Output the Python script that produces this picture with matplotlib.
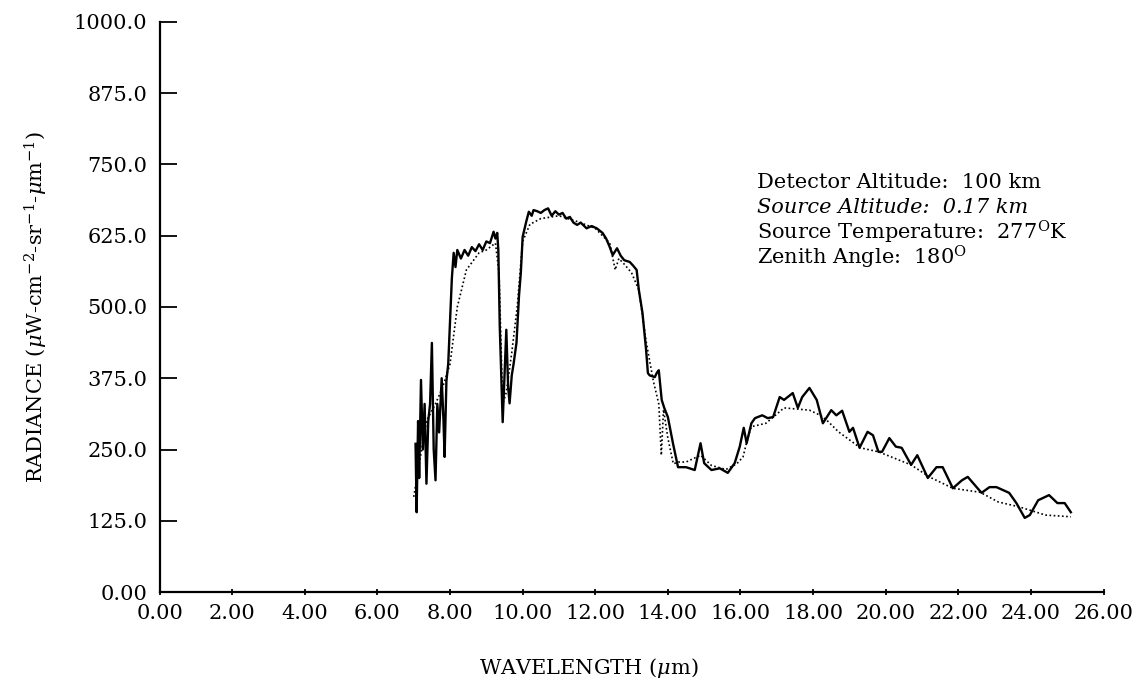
import matplotlib
matplotlib.use("Agg")
import matplotlib.pyplot as plt

plt.rcParams['font.family'] = 'DejaVu Serif'
plt.rcParams['mathtext.fontset'] = 'dejavuserif'

# measured radiance (solid)
wl_obs = [7.05, 7.08, 7.12, 7.15, 7.2, 7.25, 7.3, 7.35, 7.4, 7.45, 7.5, 7.55, 7.6, 7.65,
          7.7, 7.77, 7.82, 7.85, 7.9, 7.95, 8.0, 8.05, 8.1, 8.15, 8.2, 8.3, 8.4, 8.5, 8.6,
          8.7, 8.8, 8.9, 9.0, 9.1, 9.2, 9.25, 9.3, 9.33, 9.37, 9.42, 9.45, 9.5, 9.55, 9.6,
          9.64, 9.7, 9.75, 9.83, 9.9, 9.95, 10.0, 10.1, 10.17, 10.25, 10.3, 10.4, 10.5,
          10.6, 10.7, 10.8, 10.9, 11.0, 11.1, 11.2, 11.3, 11.4, 11.5, 11.6, 11.76, 11.9,
          12.04, 12.2, 12.3, 12.4, 12.48, 12.6, 12.7, 12.8, 12.95, 13.05, 13.14, 13.2,
          13.3, 13.4, 13.45, 13.5, 13.64, 13.7, 13.75, 13.83, 13.9, 14.0, 14.14, 14.28,
          14.5, 14.74, 14.9, 15.0, 15.2, 15.43, 15.65, 15.84, 15.98, 16.09, 16.17, 16.3,
          16.4, 16.6, 16.75, 16.9, 17.08, 17.2, 17.44, 17.58, 17.7, 17.9, 18.1, 18.27,
          18.5, 18.64, 18.8, 19.0, 19.1, 19.28, 19.5, 19.65, 19.8, 19.9, 20.1, 20.28,
          20.44, 20.7, 20.87, 21.16, 21.4, 21.57, 21.85, 22.1, 22.26, 22.64, 22.86, 23.05,
          23.4, 23.6, 23.83, 23.97, 24.2, 24.5, 24.73, 24.93, 25.1]
rad_obs = [260, 140, 300, 200, 372, 250, 330, 190, 300, 330, 437, 250, 196, 330,
           280, 375, 300, 237, 370, 400, 477, 550, 595, 570, 600, 585, 600, 590, 605,
           598, 610, 600, 615, 612, 632, 620, 630, 600, 465, 360, 298, 380, 460, 360,
           331, 380, 400, 437, 520, 560, 623, 650, 667, 660, 670, 668, 665,
           670, 673, 660, 668, 662, 665, 655, 658, 648, 644, 648, 638, 642,
           638, 630, 620, 605, 591, 603, 590, 582, 579, 572, 565, 530,
           490, 425, 384, 380, 377, 385, 389, 337, 323, 307, 261, 219,
           219, 214, 261, 226, 214, 217, 209, 226, 255, 288, 261, 296,
           305, 310, 305, 307, 342, 337, 349, 323, 342, 358, 337, 296,
           319, 310, 318, 281, 288, 253, 281, 275, 246, 246, 270, 255,
           253, 223, 240, 200, 219, 219, 182, 196, 202, 174, 184, 184,
           174, 156, 130, 135, 161, 170, 156, 156, 140]

# model radiance (dotted)
wl_mod = [7.0, 7.35, 7.6, 7.8, 8.0, 8.2, 8.45, 8.8, 9.0, 9.25, 9.35, 9.45, 9.55, 9.7,
          9.85, 10.0, 10.2, 10.5, 11.0, 11.5, 12.0, 12.4, 12.55, 12.65, 12.8, 13.0, 13.2,
          13.4, 13.6, 13.75, 13.82, 13.88, 14.0, 14.15, 14.3, 14.5, 14.9, 15.2, 15.6,
          15.9, 16.07, 16.2, 16.3, 16.7, 17.2, 17.9, 18.2, 18.4, 18.7, 19.3, 19.8, 20.7,
          21.2, 21.85, 22.6, 23.1, 23.7, 24.4, 25.1]
rad_mod = [167, 300, 330, 360, 400, 500, 565, 595, 600, 612, 560, 330, 350, 420,
           500, 615, 645, 655, 660, 650, 638, 612, 565, 585, 575, 560, 530,
           440, 370, 330, 240, 320, 270, 225, 228, 228, 240, 222, 215,
           225, 237, 270, 290, 296, 323, 319, 310, 300, 281, 253, 246, 223,
           202, 182, 175, 158, 149, 135, 132]

xticks = [0, 2, 4, 6, 8, 10, 12, 14, 16, 18, 20, 22, 24, 26]
yticks = [0, 125, 250, 375, 500, 625, 750, 875, 1000]

fig = plt.figure(figsize=(11.4, 6.86), dpi=100)
ax = fig.add_axes([0.140, 0.137, 0.828, 0.831])

ax.plot(wl_obs, rad_obs, color='black', lw=1.7)
ax.plot(wl_mod, rad_mod, color='black', lw=1.2, linestyle=(0, (1, 1.5)))

ax.set_xlim(0, 26)
ax.set_ylim(0, 1000)
ax.spines['top'].set_visible(False)
ax.spines['right'].set_visible(False)
ax.spines['left'].set_linewidth(1.6)
ax.spines['bottom'].set_linewidth(1.6)

ax.set_xticks(xticks)
ax.set_xticklabels(['%.2f' % v for v in xticks])
ax.set_yticks(yticks)
ax.set_yticklabels(['0.00'] + ['%.1f' % v for v in yticks[1:]])
ax.tick_params(axis='y', direction='in', length=12, width=1.3, pad=9, labelsize=15)
ax.tick_params(axis='x', direction='inout', length=5, width=1.3, pad=6, labelsize=15)

ax.set_xlabel(r'WAVELENGTH ($\mu$m)', fontsize=15, labelpad=24, x=0.455)
ax.set_ylabel(r'RADIANCE ($\mu$W-cm$^{-2}$-sr$^{-1}$-$\mu$m$^{-1}$)', fontsize=15, labelpad=17)

fs = 15
ax.text(16.45, 719, 'Detector Altitude:  100 km', fontsize=fs, va='center')
ax.text(16.45, 675, 'Source Altitude:  0.17 km', fontsize=fs, va='center', style='italic')
ax.text(16.45, 631, r'Source Temperature:  277$^{\mathrm{O}}$K', fontsize=fs, va='center')
ax.text(16.45, 587, r'Zenith Angle:  180$^{\mathrm{O}}$', fontsize=fs, va='center')

fig.savefig('out.png', dpi=100)
